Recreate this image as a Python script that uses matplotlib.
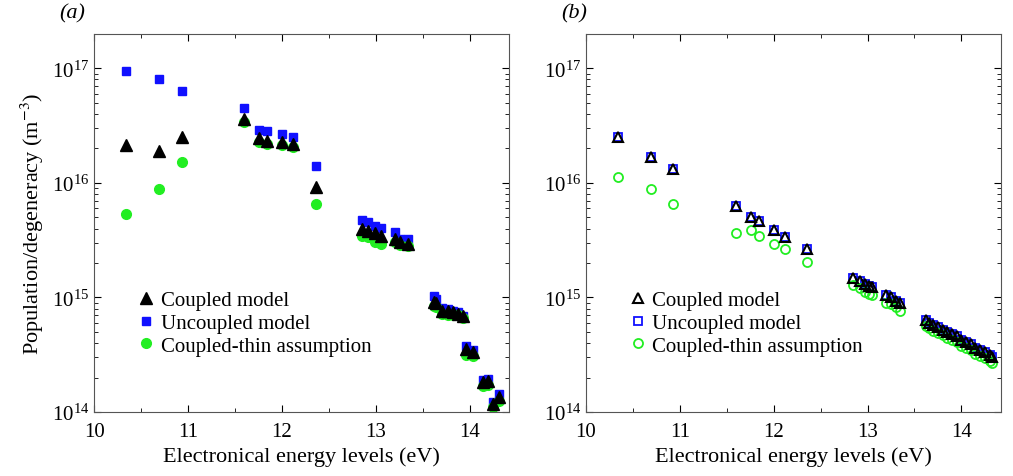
import numpy as np
import matplotlib
matplotlib.use('Agg')
import matplotlib.pyplot as plt

plt.rcParams['font.family'] = ['Liberation Serif', 'DejaVu Serif']
plt.rcParams['mathtext.fontset'] = 'stix'

# panel (a): energy levels (eV) and log10 population/degeneracy
ea = [10.34, 10.69, 10.93, 11.60, 11.76, 11.84, 12.00, 12.12, 12.36,
      12.85, 12.92, 12.99, 13.05, 13.20, 13.26, 13.34,
      13.62, 13.64, 13.70, 13.77, 13.82, 13.88, 13.93,
      13.96, 14.04, 14.14, 14.20, 14.25, 14.31]
a_unc = [16.98, 16.91, 16.80, 16.65, 16.46, 16.45, 16.43, 16.40, 16.15,
         15.68, 15.66, 15.62, 15.61, 15.57, 15.51, 15.51,
         15.01, 14.99, 14.91, 14.90, 14.88, 14.87, 14.84,
         14.58, 14.54, 14.28, 14.29, 14.09, 14.16]
a_cpl = [16.33, 16.28, 16.40, 16.56, 16.39, 16.37, 16.36, 16.34, 15.96,
         15.60, 15.58, 15.56, 15.54, 15.51, 15.48, 15.47,
         14.96, 14.95, 14.88, 14.88, 14.87, 14.86, 14.84,
         14.55, 14.52, 14.26, 14.27, 14.07, 14.13]
a_thin = [15.73, 15.95, 16.18, 16.53, 16.36, 16.34, 16.33, 16.31, 15.82,
          15.54, 15.53, 15.48, 15.47, 15.48, 15.46, 15.45,
          14.93, 14.92, 14.86, 14.85, 14.85, 14.85, 14.82,
          14.50, 14.49, 14.23, 14.24, 14.04, 14.10]

# panel (b)
eb = [10.34, 10.69, 10.93, 11.60, 11.76, 11.84, 12.00, 12.12, 12.36,
      12.85, 12.92, 12.97, 13.02, 13.05, 13.20, 13.25, 13.30, 13.35,
      13.62, 13.66, 13.70, 13.75, 13.80, 13.85, 13.90, 13.95, 14.00,
      14.05, 14.10, 14.15, 14.20, 14.25, 14.30, 14.33]
b_cpl = [16.40, 16.23, 16.12, 15.80, 15.70, 15.67, 15.59, 15.53, 15.42,
         15.17, 15.14, 15.12, 15.10, 15.09, 15.02, 15.00, 14.97, 14.95,
         14.80, 14.78, 14.76, 14.74, 14.72, 14.70, 14.68, 14.66, 14.63,
         14.61, 14.59, 14.56, 14.54, 14.52, 14.50, 14.48]
b_unc = b_cpl
b_thin = [16.05, 15.95, 15.82, 15.56, 15.59, 15.54, 15.47, 15.42, 15.31,
          15.11, 15.08, 15.05, 15.03, 15.02, 14.95, 14.94, 14.92, 14.88,
          14.75, 14.73, 14.71, 14.69, 14.67, 14.65, 14.63, 14.61, 14.58,
          14.56, 14.54, 14.51, 14.49, 14.47, 14.45, 14.43]

labels = ['Coupled model', 'Uncoupled model', 'Coupled-thin assumption']

fig, axes = plt.subplots(1, 2, figsize=(10.13, 4.77), dpi=100)
fig.subplots_adjust(left=0.093, right=0.988, bottom=0.134, top=0.927, wspace=0.185)


def p(v):
    return 10 ** np.array(v)


ax = axes[0]
ax.plot(ea, p(a_cpl), '^', color='black', ms=8, ls='none', label=labels[0], zorder=3)
ax.plot(ea, p(a_unc), 's', color='#1010ff', ms=6, ls='none', label=labels[1], zorder=2)
ax.plot(ea, p(a_thin), 'o', color='#22ee22', ms=7, ls='none', label=labels[2], zorder=2)
ax.set_ylabel('Population/degeneracy (m$^{-3}$)', fontsize=16)

ax = axes[1]
ax.plot(eb, p(b_cpl), '^', mfc='none', mec='black', mew=1.5, ms=7, ls='none', label=labels[0], zorder=3)
ax.plot(eb, p(b_unc), 's', mfc='none', mec='#1010ff', mew=1.3, ms=5.5, ls='none', label=labels[1], zorder=2)
ax.plot(eb, p(b_thin), 'o', mfc='none', mec='#22ee22', mew=1.3, ms=6.5, ls='none', label=labels[2], zorder=2)

for ax, tag in zip(axes, ['(a)', '(b)']):
    ax.set_yscale('log')
    ax.set_ylim(1e14, 2.0e17)
    ax.set_xlim(10, 14.42)
    ax.set_xticks([10, 11, 12, 13, 14])
    ax.set_xticks(np.arange(10, 14.5, 0.5), minor=True)
    ax.tick_params(which='both', direction='in', top=True, right=True, labelsize=15)
    ax.tick_params(which='major', length=5)
    ax.tick_params(which='minor', length=3)
    ax.tick_params(axis='x', pad=7)
    ax.set_xlabel('Electronical energy levels (eV)', fontsize=16)
    ax.legend(loc='lower left', bbox_to_anchor=(0.05, 0.1), frameon=False, fontsize=15,
              handletextpad=0.1, labelspacing=0.15, handlelength=1.2)
    ax.text(-0.085 if tag == '(a)' else -0.06, 1.03, tag, transform=ax.transAxes,
            fontsize=16, style='italic', va='bottom')
    for s in ax.spines.values():
        s.set_color('#555555')

fig.savefig('out.png', dpi=100)
